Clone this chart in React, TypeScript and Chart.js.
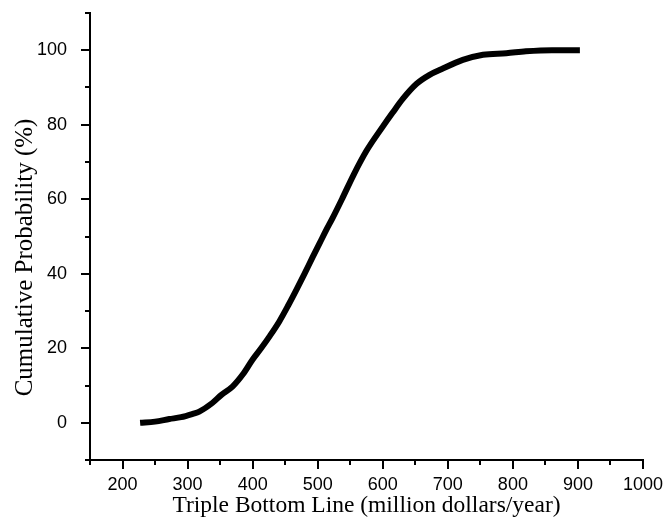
import { useEffect, useRef } from "react";
import { Chart, registerables } from "chart.js";

Chart.register(...registerables);

// Triple Bottom Line (million dollars/year)
const tblValues = [
  227, 250, 272, 290, 308, 318, 338, 352, 369, 385, 400, 413, 426, 441, 455,
  467, 480, 492, 503, 513, 523, 538, 555, 575, 600, 615, 631, 652, 672, 690,
  723, 754, 790, 820, 860, 903,
];
// Cumulative Probability (%)
const cumulativeProbability = [
  0, 0.3, 1, 1.5, 2.4, 3, 5.3, 7.5, 9.7, 13, 17, 20, 23.2, 27.2, 31.6, 35.6,
  40.1, 44.4, 48.2, 51.7, 55, 60.3, 66.5, 73, 79.5, 83.2, 87, 91, 93.4, 94.9,
  97.4, 98.8, 99.2, 99.7, 100, 100,
];

const xAxisRange = [150, 1000];
const xTickStep = 50;
const xLabelEvery = 100;
const yAxisRange = [-10, 110];
const yTickStep = 10;
const yLabelEvery = 20;

const xTitle = "Triple Bottom Line (million dollars/year)";
const yTitle = "Cumulative Probability (%)";

const tickMarks = {
  id: "tickMarks",
  afterDraw(chart: any) {
    const ctx = chart.ctx;
    const xs = chart.scales.x;
    const ys = chart.scales.y;
    ctx.save();
    ctx.strokeStyle = "#000";
    ctx.lineWidth = 2;
    ctx.beginPath();
    xs.ticks.forEach((t: any) => {
      const px = Math.round(xs.getPixelForValue(t.value));
      const len = t.value % xLabelEvery === 0 ? 8 : 4;
      ctx.moveTo(px, ys.bottom);
      ctx.lineTo(px, ys.bottom + 1 + len);
    });
    ys.ticks.forEach((t: any) => {
      const py = Math.round(ys.getPixelForValue(t.value));
      const len = t.value % yLabelEvery === 0 ? 8 : 4;
      ctx.moveTo(xs.left, py);
      ctx.lineTo(xs.left - 1 - len, py);
    });
    ctx.stroke();
    // y axis title
    const area = chart.chartArea;
    ctx.translate(32, (area.top + area.bottom) / 2 + 21);
    ctx.rotate(-Math.PI / 2);
    ctx.fillStyle = "#000";
    ctx.font = "25px 'Liberation Serif', 'Times New Roman', serif";
    ctx.textAlign = "center";
    ctx.textBaseline = "alphabetic";
    ctx.fillText(yTitle, 0, 0);
    ctx.restore();
  },
};

export default function App() {
  const ref = useRef<HTMLCanvasElement | null>(null);
  useEffect(() => {
    if (!ref.current) return;
    const data = tblValues.map((x, i) => ({ x, y: cumulativeProbability[i] }));
    const chart = new Chart(ref.current, {
      type: "scatter",
      data: {
        datasets: [
          {
            data,
            showLine: true,
            borderColor: "#000",
            backgroundColor: "#000",
            borderWidth: 6,
            pointRadius: 0,
            cubicInterpolationMode: "monotone",
            borderCapStyle: "butt",
          },
        ],
      },
      options: {
        responsive: false,
        animation: false,
        layout: { padding: { top: 13, right: 22, left: 0, bottom: 0 } },
        plugins: { legend: { display: false }, tooltip: { enabled: false } },
        scales: {
          x: {
            type: "linear",
            min: xAxisRange[0],
            max: xAxisRange[1],
            afterFit: (s: any) => {
              s.height = 63;
              s.paddingLeft = 0;
              s.paddingRight = 0;
            },
            grid: { display: false },
            border: { display: true, color: "#000", width: 2 },
            ticks: {
              stepSize: xTickStep,
              autoSkip: false,
              maxRotation: 0,
              padding: 6,
              color: "#000",
              font: { family: "'Liberation Sans', Arial, sans-serif", size: 18 },
              callback: (v: any) => (Number(v) % xLabelEvery === 0 ? String(v) : ""),
            },
            title: {
              display: true,
              text: xTitle,
              color: "#000",
              font: { family: "'Liberation Serif', 'Times New Roman', serif", size: 23.5 },
              padding: { top: 0, bottom: 3 },
            },
          },
          y: {
            type: "linear",
            min: yAxisRange[0],
            max: yAxisRange[1],
            afterFit: (s: any) => {
              s.width = 90;
              s.paddingTop = 0;
              s.paddingBottom = 0;
            },
            grid: { display: false },
            border: { display: true, color: "#000", width: 2 },
            ticks: {
              stepSize: yTickStep,
              autoSkip: false,
              padding: 15,
              color: "#000",
              font: { family: "'Liberation Sans', Arial, sans-serif", size: 18 },
              callback: (v: any) => (Number(v) % yLabelEvery === 0 ? String(v) : ""),
            },
            title: { display: false },
          },
        },
      },
      plugins: [tickMarks],
    });
    return () => chart.destroy();
  }, []);
  return (
    <div style={{ position: "absolute", left: 0, top: 0, width: 665, height: 523, background: "#fff" }}>
      <canvas ref={ref} width={665} height={523} />
    </div>
  );
}
